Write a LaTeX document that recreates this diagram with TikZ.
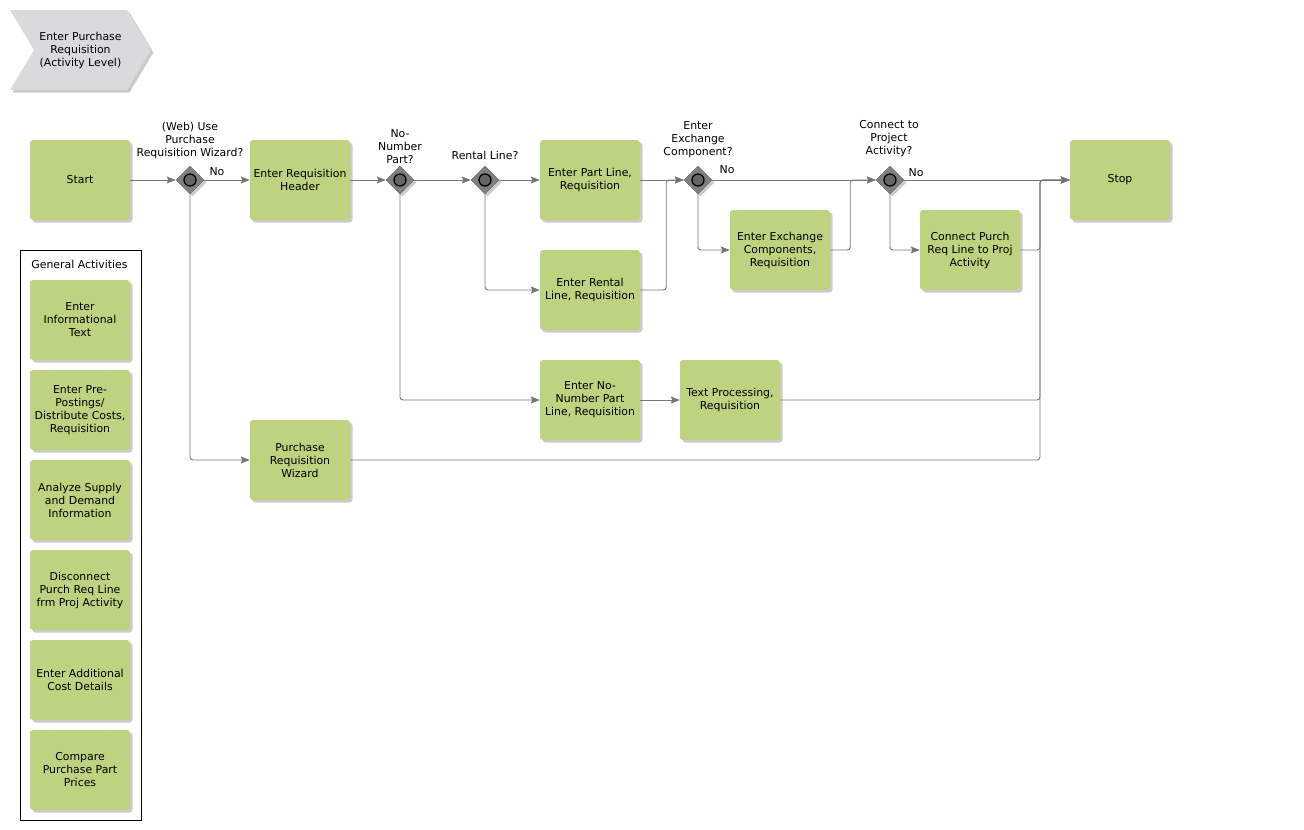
\documentclass[tikz,border=0pt]{standalone}
\usepackage{xcolor}
\usepackage{fontspec}
\setmainfont{DejaVu Sans}
\usetikzlibrary{shapes.geometric, shapes.symbols, arrows.meta, positioning, calc, shadows}
\definecolor{actcolor}{RGB}{189, 211, 127}
\definecolor{linecolor}{RGB}{118, 118, 118}
\definecolor{gatecolor}{RGB}{128, 128, 128}
\definecolor{chevcolor}{RGB}{217, 218, 220}

\begin{document}
\begin{tikzpicture}[
    x=1pt, y=-1pt,
    font=\fontsize{10.9}{13}\selectfont,
    shade/.style={drop shadow={shadow xshift=2.5pt, shadow yshift=-2.5pt, fill=black!45, opacity=0.45}},
    act/.style={rectangle, rounded corners=3pt, fill=actcolor, minimum width=100pt, minimum height=80pt, inner sep=1pt, align=center, shade},
    gate/.style={diamond, fill=gatecolor, draw=gatecolor!75!black, minimum width=28pt, minimum height=28pt, inner sep=0pt, shade,
        path picture={\draw[black, line width=1.3pt, fill=gatecolor!80!black] (path picture bounding box.center) circle (6pt);}},
    glabel/.style={align=center, inner sep=0pt},
    flow/.style={draw=linecolor, line width=0.9pt, -{Stealth[length=9pt, width=7pt, inset=1.5pt]}, rounded corners=3pt}
]
\useasboundingbox (0,0) rectangle (1304,830);

% Process level
\node[signal, signal to=east, signal from=west, signal pointer angle=118, fill=chevcolor, minimum width=141pt, minimum height=80pt, inner sep=1pt, align=center, shade] (lvl) at (80.5,50) {Enter Purchase\\Requisition\\(Activity Level)};

% Main flow
\node[act] (start) at (80,180) {Start};
\node[gate] (g1) at (190,180) {};
\node[act] (hdr) at (300,180) {Enter Requisition\\Header};
\node[gate] (g2) at (400,180) {};
\node[gate] (g3) at (485,180) {};
\node[act] (part) at (590,180) {Enter Part Line,\\Requisition};
\node[gate] (g4) at (698,180) {};
\node[gate] (g5) at (890,180) {};
\node[act] (stop) at (1120,180) {Stop};

% Branches
\node[act] (exch) at (780,250) {Enter Exchange\\Components,\\Requisition};
\node[act] (conn) at (970,250) {Connect Purch\\Req Line to Proj\\Activity};
\node[act] (rent) at (590,290) {Enter Rental\\Line, Requisition};
\node[act] (nonum) at (590,400) {Enter No-\\Number Part\\Line, Requisition};
\node[act] (txt) at (730,400) {Text Processing,\\Requisition};
\node[act] (wiz) at (300,460) {Purchase\\Requisition\\Wizard};

% Gateway labels
\node[glabel] (g1lbl) at (190,140) {(Web) Use\\Purchase\\Requisition Wizard?};
\node[glabel] (g2lbl) at (400,147) {No-\\Number\\Part?};
\node[glabel] (g3lbl) at (485,155) {Rental Line?};
\node[glabel] (g4lbl) at (698,140) {Enter\\Exchange\\Component?};
\node[glabel] (g5lbl) at (889,139) {Connect to\\Project\\Activity?};
\node[glabel] (no1) at (217,172) {No};
\node[glabel] (no4) at (727,170) {No};
\node[glabel] (no5) at (916,173) {No};

% General activities
\node[draw=black, line width=0.9pt, minimum width=121pt, minimum height=570pt, inner sep=0pt] (gen) at (80.5,535) {};
\node[glabel] (gentitle) at (79.5,264) {General Activities};
\node[act] (ga1) at (80,320) {Enter\\Informational\\Text};
\node[act] (ga2) at (80,410) {Enter Pre-\\Postings/\\Distribute Costs,\\Requisition};
\node[act] (ga3) at (80,500) {Analyze Supply\\and Demand\\Information};
\node[act] (ga4) at (80,590) {Disconnect\\Purch Req Line\\frm Proj Activity};
\node[act] (ga5) at (80,680) {Enter Additional\\Cost Details};
\node[act] (ga6) at (80,770) {Compare\\Purchase Part\\Prices};

% Arrows
\draw[flow] (start) -- (g1);
\draw[flow] (g1) -- (hdr);
\draw[flow] (g1.south) |- (wiz.west);
\draw[flow] (hdr) -- (g2);
\draw[flow] (g2) -- (g3);
\draw[flow] (g2.south) |- (nonum.west);
\draw[flow] (g3) -- (part);
\draw[flow] (g3.south) |- (rent.west);
\draw[flow] (part) -- (g4);
\draw[flow] (rent.east) -- ++(26,0) |- (g4.west);
\draw[flow] (g4) -- (g5);
\draw[flow] (g4.south) |- (exch.west);
\draw[flow] (exch.east) -- ++(20,0) |- (g5.west);
\draw[flow] (g5) -- (stop);
\draw[flow] (g5.south) |- (conn.west);
\draw[flow] (nonum) -- (txt);

% Merge into Stop
\coordinate (merge) at (1040,180);
\draw[flow] (conn.east) -| (merge) -- (stop.west);
\draw[flow] (txt.east) -| (merge) -- (stop.west);
\draw[flow] (wiz.east) -| (merge) -- (stop.west);

\end{tikzpicture}
\end{document}
